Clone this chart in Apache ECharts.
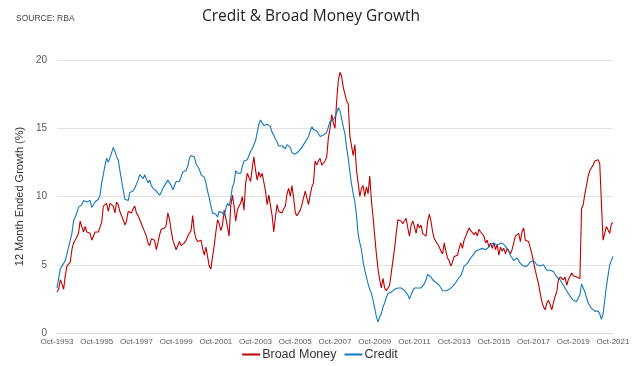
<!DOCTYPE html>
<html><head><meta charset="utf-8">
<script src="https://cdn.jsdelivr.net/npm/echarts@6/dist/echarts.min.js"></script>
<style>html,body{margin:0;padding:0;background:#fff}#c{width:640px;height:366px}</style>
</head><body><div id="c"></div>
<script>
var startYear = 1993, startMonth = 9; // Oct-1993
var tickLabels = ['Oct-1993','Oct-1995','Oct-1997','Oct-1999','Oct-2001','Oct-2003','Oct-2005','Oct-2007','Oct-2009','Oct-2011','Oct-2013','Oct-2015','Oct-2017','Oct-2019','Oct-2021'];
var seriesNames = ['Broad Money', 'Credit'];

var broadMoney = [
3.0,3.2,3.9,3.6,3.2,4.2,4.9,5.0,5.2,6.1,6.6,6.8,
6.8,7.3,8.2,8.2,7.4,7.8,7.4,7.5,7.3,6.8,6.8,7.4,
7.5,7.4,7.4,8.1,9.3,9.4,9.5,8.9,9.5,9.6,9.3,8.8,
9.6,9.4,8.9,8.8,8.3,7.9,8.2,8.9,9.0,8.8,9.1,9.3,
8.8,8.6,8.3,8.0,7.7,7.6,7.1,6.6,6.4,6.9,6.9,6.8,
6.1,6.6,7.2,7.6,7.7,7.7,7.9,8.8,8.3,7.5,6.8,6.7,
6.1,6.2,6.7,6.4,6.5,6.6,6.8,7.1,7.2,7.5,8.6,7.4,
6.9,6.7,6.7,6.8,6.2,5.7,6.3,5.6,4.9,4.7,5.6,6.4,
7.4,8.3,8.0,7.5,7.9,9.0,8.4,7.8,7.1,9.3,10.1,9.3,
8.2,9.0,9.3,9.5,10.0,9.0,11.0,11.7,11.8,11.1,12.1,12.9,
11.9,11.2,11.8,11.4,11.7,11.6,10.4,9.4,10.1,10.0,8.6,7.4,
8.5,9.4,8.9,9.0,8.8,9.1,9.3,10.2,10.6,10.0,10.8,9.9,
8.8,8.6,8.8,9.0,9.4,9.9,10.4,9.9,9.4,10.1,10.7,11.0,
12.6,12.3,12.6,12.8,12.3,12.4,12.6,12.9,14.3,15.0,16.0,15.4,
15.0,17.0,18.5,19.1,18.8,18.0,17.5,17.0,16.8,14.4,14.5,13.0,
13.8,11.9,11.0,10.0,10.6,10.8,10.0,10.7,10.2,11.5,9.7,8.5,
7.1,5.8,4.7,3.9,3.3,4.0,3.3,3.1,3.0,3.5,4.4,5.3,
6.2,7.3,8.3,8.3,8.2,8.0,8.2,8.4,7.7,7.1,7.9,8.2,
7.8,7.3,8.0,7.7,7.9,7.3,7.4,7.1,8.2,8.7,8.2,7.4,
6.9,6.7,6.6,6.3,6.0,5.8,6.6,6.0,5.5,5.3,4.9,5.2,
5.6,5.7,5.7,6.2,6.6,6.2,6.8,7.1,7.4,7.7,7.5,7.4,
7.2,7.4,7.1,7.6,7.4,7.3,7.1,6.6,6.8,6.3,6.6,6.2,
6.6,6.1,6.5,5.7,6.3,6.0,6.2,5.8,6.2,6.1,5.8,6.1,
6.6,7.1,7.2,7.3,6.7,7.4,7.7,6.8,6.7,6.7,6.6,5.8,
5.2,4.6,4.1,3.6,2.9,2.3,1.9,1.7,2.2,2.4,2.1,1.7,
2.2,2.7,3.0,3.9,4.1,4.0,3.9,4.1,3.5,3.9,4.0,4.4,
4.2,4.1,4.1,4.0,4.0,9.1,9.4,10.2,10.8,11.5,11.9,12.1,
12.3,12.6,12.7,12.7,12.4,9.5,6.8,6.9,7.8,7.8,7.3,8.0,
8.1
];

var credit = [
3.3,4.0,4.7,4.9,5.0,5.3,5.8,6.3,6.8,7.3,8.2,8.5,
8.8,9.2,9.3,9.4,9.7,9.7,9.6,9.5,9.7,9.2,9.1,9.6,
9.7,9.8,10.1,11.0,11.6,12.3,12.8,12.5,12.6,13.2,13.6,13.3,
12.9,12.7,11.9,11.2,10.5,9.8,9.7,9.7,10.3,10.2,10.4,10.6,
10.7,11.2,11.6,11.5,11.3,11.6,11.5,11.0,11.2,10.8,10.6,10.5,
10.4,10.4,10.1,10.3,10.6,10.7,11.0,11.2,11.0,10.8,10.5,10.8,
11.1,11.2,11.1,11.1,11.8,11.9,11.9,12.2,12.8,13.0,13.0,12.9,
12.4,12.2,12.0,11.6,11.5,11.4,11.0,10.4,9.9,9.3,8.8,8.7,
8.7,8.5,8.9,9.0,8.8,8.6,9.1,9.5,9.3,9.9,10.7,11.0,
11.9,11.7,11.6,11.7,12.2,12.6,12.6,12.7,13.0,13.3,13.5,13.6,
14.1,14.7,15.3,15.6,15.7,15.2,15.1,15.3,15.4,15.1,14.7,14.5,
14.2,14.0,13.7,13.6,13.7,13.6,13.5,13.8,13.7,13.6,13.2,13.2,
13.1,13.0,13.3,13.4,13.6,13.8,14.0,14.2,14.4,14.8,15.1,14.9,
14.9,14.8,14.7,14.4,14.4,14.5,14.6,14.7,15.1,15.5,15.4,15.6,
15.6,16.1,16.5,16.3,15.7,15.1,14.6,13.6,12.8,11.8,10.9,10.2,
9.6,8.6,7.2,6.6,6.1,5.2,4.6,4.1,3.6,3.2,2.9,2.4,
1.8,1.2,0.8,1.2,1.4,1.9,2.2,2.6,2.9,3.0,3.0,3.1,
3.2,3.3,3.3,3.4,3.3,3.3,3.1,3.0,2.8,2.5,2.8,3.1,
3.3,3.3,3.3,3.3,3.3,3.4,3.6,3.9,4.3,4.2,4.1,3.9,
3.8,3.7,3.6,3.5,3.3,3.1,3.0,3.1,3.2,3.2,3.3,3.4,
3.5,3.7,3.9,4.0,4.2,4.5,4.9,5.0,5.1,5.3,5.5,5.6,
5.8,6.0,6.1,6.1,6.1,6.2,6.1,6.1,6.2,6.3,6.5,6.6,
6.6,6.5,6.4,6.5,6.6,6.6,6.5,6.4,6.2,6.0,5.7,5.5,
5.3,5.4,5.5,5.3,5.1,5.0,4.9,4.9,4.9,5.0,5.2,5.3,
5.3,5.2,5.0,4.9,4.9,5.0,5.0,4.8,4.6,4.6,4.6,4.6,
4.5,4.4,4.1,4.0,3.9,3.7,3.5,3.3,3.1,2.9,2.7,2.6,
2.4,2.3,2.3,2.4,2.8,3.6,3.3,3.0,2.6,2.2,2.0,1.8,
1.7,1.6,1.6,1.6,1.4,1.0,1.4,2.4,3.4,4.2,5.0,5.3,
5.6
];

var monthNames = ['Jan','Feb','Mar','Apr','May','Jun','Jul','Aug','Sep','Oct','Nov','Dec'];
var categories = [];
for (var k = 0; k < broadMoney.length; k++) {
  var m = (startMonth + k) % 12, y = startYear + Math.floor((startMonth + k) / 12);
  categories.push(monthNames[m] + '-' + y);
}

var chart = echarts.init(document.getElementById('c'), null, {renderer: 'canvas'});
chart.setOption({
  animation: false,
  backgroundColor: '#fff',
  title: [
    {text: 'Credit & Broad Money Growth', left: 306, top: 4, textAlign: 'center',
     textStyle: {fontFamily: 'Open Sans', fontSize: 15.5, fontWeight: 'normal', color: '#222'}},
    {text: 'SOURCE: RBA', left: 11, top: 9,
     textStyle: {fontFamily: 'Liberation Sans', fontSize: 8.5, fontWeight: 'normal', color: '#444'}}
  ],
  legend: {
    bottom: 0, left: 'center', itemWidth: 18, itemHeight: 2, itemGap: 8,
    icon: 'rect',
    textStyle: {fontFamily: 'Liberation Sans Narrow, Liberation Sans', fontSize: 12.5, color: '#333', padding: [0,0,0,-3]},
    data: seriesNames
  },
  grid: {left: 57, right: 27, top: 60, bottom: 33, containLabel: false},
  xAxis: {
    type: 'category', boundaryGap: false, data: categories,
    axisLine: {show: true, lineStyle: {color: '#D9D9D9'}},
    axisTick: {show: false},
    axisLabel: {interval: 23, color: '#595959', fontSize: 8, margin: 5,
      fontFamily: 'Liberation Sans Narrow, Liberation Sans',
      formatter: function (v) { return tickLabels.indexOf(v) >= 0 ? v : ''; }},
    splitLine: {show: false}
  },
  yAxis: {
    type: 'value', min: 0, max: 20, interval: 5,
    name: '12 Month Ended Growth (%)', nameLocation: 'middle', nameGap: 30,
    nameTextStyle: {fontFamily: 'Liberation Sans', fontSize: 11, color: '#333'},
    axisLine: {show: false}, axisTick: {show: false},
    axisLabel: {color: '#595959', fontSize: 10, margin: 10, fontFamily: 'Liberation Sans'},
    splitLine: {lineStyle: {color: '#E3E3E3', width: 1}}
  },
  series: [
    {name: seriesNames[0], type: 'line', data: broadMoney, showSymbol: false, symbol: 'none',
     lineStyle: {color: '#C00000', width: 1.1}, itemStyle: {color: '#C00000'}},
    {name: seriesNames[1], type: 'line', data: credit, showSymbol: false, symbol: 'none',
     lineStyle: {color: '#1278C0', width: 1.1}, itemStyle: {color: '#1278C0'}}
  ]
});
</script>
</body></html>
